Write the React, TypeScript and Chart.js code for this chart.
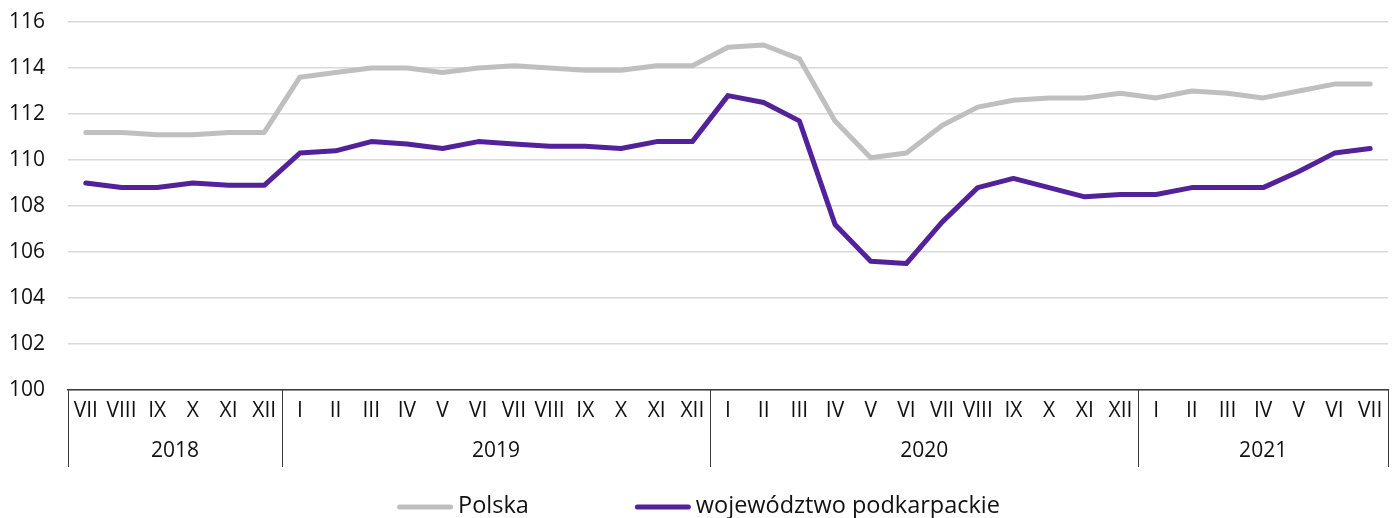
import React, { useEffect, useRef } from 'react';
import { Chart, registerables } from 'chart.js';

Chart.register(...registerables);

const months = [
  'VII', 'VIII', 'IX', 'X', 'XI', 'XII',
  'I', 'II', 'III', 'IV', 'V', 'VI', 'VII', 'VIII', 'IX', 'X', 'XI', 'XII',
  'I', 'II', 'III', 'IV', 'V', 'VI', 'VII', 'VIII', 'IX', 'X', 'XI', 'XII',
  'I', 'II', 'III', 'IV', 'V', 'VI', 'VII',
];

const yearLabels = ['2018', '2019', '2020', '2021'];
const yearCounts = [6, 12, 12, 7];

const polska = [
  111.2, 111.2, 111.1, 111.1, 111.2, 111.2,
  113.6, 113.8, 114.0, 114.0, 113.8, 114.0, 114.1, 114.0, 113.9, 113.9, 114.1, 114.1,
  114.9, 115.0, 114.4, 111.7, 110.1, 110.3, 111.5, 112.3, 112.6, 112.7, 112.7, 112.9,
  112.7, 113.0, 112.9, 112.7, 113.0, 113.3, 113.3,
];

const podkarpackie = [
  109.0, 108.8, 108.8, 109.0, 108.9, 108.9,
  110.3, 110.4, 110.8, 110.7, 110.5, 110.8, 110.7, 110.6, 110.6, 110.5, 110.8, 110.8,
  112.8, 112.5, 111.7, 107.2, 105.6, 105.5, 107.3, 108.8, 109.2, 108.8, 108.4, 108.5,
  108.5, 108.8, 108.8, 108.8, 109.5, 110.3, 110.5,
];

const seriesNames = ['Polska', 'województwo podkarpackie'];
const seriesColors = ['#bfbfbf', '#53229b'];

const FONT = '"Open Sans", "Noto Sans", sans-serif';
const TEXT = '#111111';
const AXIS = '#3a3a3a';

export default function App() {
  const ref = useRef<HTMLCanvasElement>(null);

  useEffect(() => {
    const canvas = ref.current;
    if (!canvas) return;

    const groupPlugin = {
      id: 'yearGroups',
      afterDraw(chart: any) {
        const { ctx, chartArea, scales } = chart;
        const xs = scales.x;
        const half = (xs.getPixelForValue(1) - xs.getPixelForValue(0)) / 2;
        const top = chartArea.bottom;
        const bottom = 467;
        ctx.save();
        ctx.strokeStyle = AXIS;
        ctx.lineWidth = 1;
        ctx.fillStyle = TEXT;
        ctx.font = `21px ${FONT}`;
        ctx.textAlign = 'center';
        ctx.textBaseline = 'middle';
        let start = 0;
        const edges: number[] = [];
        yearCounts.forEach((count, gi) => {
          const left = xs.getPixelForValue(start) - half;
          const right = xs.getPixelForValue(start + count - 1) + half;
          edges.push(left);
          if (gi === yearCounts.length - 1) edges.push(right);
          ctx.fillText(yearLabels[gi], (left + right) / 2, 451);
          start += count;
        });
        edges.forEach((ex) => {
          const px = Math.round(ex) + 0.5;
          ctx.beginPath();
          ctx.moveTo(px, top);
          ctx.lineTo(px, bottom);
          ctx.stroke();
        });

        // legend
        ctx.font = `23.5px ${FONT}`;
        const sample = 56;
        const gap = 5;
        const spacing = 106;
        const widths = seriesNames.map((n) => ctx.measureText(n).width);
        const total = sample * 2 + gap * 2 + widths[0] + widths[1] + spacing;
        let lx = (chart.width - total) / 2;
        const ly = 507;
        ctx.textAlign = 'left';
        seriesNames.forEach((name, i) => {
          ctx.strokeStyle = seriesColors[i];
          ctx.lineWidth = 5;
          ctx.lineCap = 'round';
          ctx.beginPath();
          ctx.moveTo(lx + 2.5, ly);
          ctx.lineTo(lx + sample - 2.5, ly);
          ctx.stroke();
          ctx.fillStyle = TEXT;
          ctx.fillText(name, lx + sample + gap, ly - 1);
          lx += sample + gap + widths[i] + spacing;
        });
        ctx.restore();
      },
    };

    const chart = new Chart(canvas, {
      type: 'line',
      data: {
        labels: months,
        datasets: [
          {
            label: seriesNames[0],
            data: polska,
            borderColor: seriesColors[0],
            backgroundColor: seriesColors[0],
            borderWidth: 5,
            pointRadius: 0,
            tension: 0,
            borderCapStyle: 'round',
            borderJoinStyle: 'round',
          },
          {
            label: seriesNames[1],
            data: podkarpackie,
            borderColor: seriesColors[1],
            backgroundColor: seriesColors[1],
            borderWidth: 5,
            pointRadius: 0,
            tension: 0,
            borderCapStyle: 'round',
            borderJoinStyle: 'round',
          },
        ],
      },
      options: {
        responsive: false,
        animation: false,
        devicePixelRatio: 1,
        layout: { padding: { left: 0, right: 9, top: 22, bottom: 0 } },
        plugins: {
          legend: { display: false },
          tooltip: { enabled: false },
        },
        scales: {
          x: {
            type: 'category',
            offset: true,
            grid: { display: false, drawTicks: false },
            border: { display: true, color: AXIS, width: 1.5 },
            ticks: {
              color: TEXT,
              font: { family: FONT, size: 21 },
              padding: 8,
              maxRotation: 0,
              autoSkip: false,
            },
            afterFit(scale: any) {
              scale.height = 128;
            },
          },
          y: {
            min: 100,
            max: 116,
            ticks: {
              stepSize: 2,
              color: TEXT,
              font: { family: FONT, size: 21 },
              padding: 0,
            },
            grid: {
              color: '#d9d9d9',
              lineWidth: 1.5,
              drawTicks: true,
              tickLength: 23,
              tickColor: 'rgba(0,0,0,0)',
            },
            border: { display: false },
            afterFit(scale: any) {
              scale.width = 68;
            },
          },
        },
      },
      plugins: [groupPlugin],
    });

    return () => chart.destroy();
  }, []);

  return (
    <div style={{ position: 'absolute', left: 0, top: 0, width: 1397, height: 518 }}>
      <canvas ref={ref} width={1397} height={518} style={{ display: 'block' }} />
    </div>
  );
}
